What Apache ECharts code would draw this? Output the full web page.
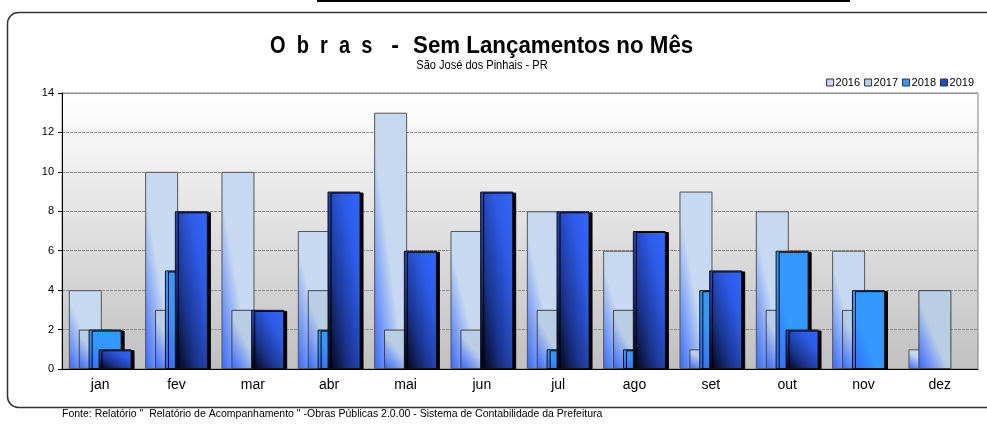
<!DOCTYPE html>
<html>
<head>
<meta charset="utf-8">
<script src="https://cdn.jsdelivr.net/npm/echarts@6/dist/echarts.min.js"></script>
<style>
  html, body { margin: 0; padding: 0; background: #fff; }
  #chart { width: 987px; height: 424px; }
</style>
</head>
<body>
<div id="chart"></div>
<script>
var meses = ['jan', 'fev', 'mar', 'abr', 'mai', 'jun', 'jul', 'ago', 'set', 'out', 'nov', 'dez'];
var anos = ['2016', '2017', '2018', '2019'];
var v2016 = [4, 10, 10, 7, 13, 7, 8, 6, 9, 8, 6, 1];
var v2017 = [2, 3, 3, 4, 2, 2, 3, 3, 1, 3, 3, 4];
var v2018 = [2, 5, 0, 2, 0, 0, 1, 1, 4, 6, 4, 0];
var v2019 = [1, 8, 3, 9, 6, 9, 8, 7, 5, 2, 0, 0];
var yTicks = [0, 2, 4, 6, 8, 10, 12, 14];

var fonte = 'Liberation Sans Narrow, Liberation Sans, Arial, sans-serif';
var BAR_W = 33;
var PX_PER_UNIT = 276 / 14;

// diagonal gradient whose isolines follow the bar's anti-diagonal (like Excel)
function diag(stops) {
  return function (p) {
    var h = Math.max(p.value * PX_PER_UNIT, 1), w = BAR_W;
    var s = h * h + w * w;
    return new echarts.graphic.LinearGradient(0, 1, 2 * h * h / s, 1 - 2 * w * w / s,
      stops.map(function (c) { return { offset: c[0], color: c[1] }; }));
  };
}

var cores = {
  '2016': diag([[0, '#3366ff'], [0.45, '#c6d9f0'], [1, '#c6d9f0']]),
  '2017': diag([[0, '#3366ff'], [0.45, '#b9cde5'], [1, '#b9cde5']]),
  '2018': diag([[0, '#3366ff'], [0.4, '#3399ff'], [1, '#3399ff']]),
  '2019': diag([[0, '#000008'], [0.35, '#1a358f'], [0.7, '#2d5be6'], [1, '#3366ff']])
};
var legendCores = { '2016': '#c6d9f0', '2017': '#b9cde5', '2018': '#3399ff', '2019': '#2448c8' };

function serie(nome, dados, borda, sombra) {
  var st = { color: cores[nome], borderColor: borda, borderWidth: 1 };
  if (sombra) {
    st.shadowColor = '#000';
    st.shadowOffsetX = 3;
    st.shadowOffsetY = 1;
    st.shadowBlur = 0;
  }
  return {
    name: nome,
    type: 'bar',
    // zero months have no visible bar
    data: dados.map(function (v) { return v === 0 ? '-' : v; }),
    barWidth: BAR_W,
    barGap: '-70%',
    itemStyle: st,
    emphasis: { disabled: true },
    animation: false
  };
}

var chart = echarts.init(document.getElementById('chart'));
chart.setOption({
  animation: false,
  textStyle: { fontFamily: fonte },
  legend: {
    data: anos.map(function (a) {
      return { name: a, itemStyle: { color: legendCores[a], borderColor: '#333', borderWidth: 1 } };
    }),
    right: 8,
    top: 72,
    icon: 'rect',
    itemWidth: 7,
    itemHeight: 7,
    itemGap: 4,
    textStyle: { fontSize: 11, color: '#000', fontFamily: 'Liberation Sans, Arial, sans-serif', padding: [0, 0, 0, -3] }
  },
  grid: {
    left: 62, right: 9, top: 93, bottom: 55,
    show: true,
    borderColor: '#808080',
    borderWidth: 1,
    backgroundColor: new echarts.graphic.LinearGradient(0, 0, 0, 1, [
      { offset: 0, color: '#ffffff' },
      { offset: 1, color: '#c0c0c0' }
    ])
  },
  xAxis: {
    type: 'category',
    data: meses,
    axisLine: { lineStyle: { color: '#000', width: 1 } },
    axisTick: { length: 5, lineStyle: { color: '#000' } },
    axisLabel: { fontSize: 14, color: '#000', margin: 9 }
  },
  yAxis: {
    type: 'value',
    min: yTicks[0],
    max: yTicks[yTicks.length - 1],
    interval: 2,
    axisLine: { show: true, lineStyle: { color: '#000', width: 1 } },
    axisTick: { show: true, length: 4, lineStyle: { color: '#000' } },
    axisLabel: { fontSize: 11, color: '#000', margin: 8, fontFamily: 'Liberation Sans, Arial, sans-serif' },
    splitLine: { lineStyle: { color: '#8c8c8c', type: [3, 1], width: 1 } }
  },
  series: [
    serie('2016', v2016, '#555', false),
    serie('2017', v2017, '#444', false),
    serie('2018', v2018, '#111', true),
    serie('2019', v2019, '#111', true)
  ],
  graphic: [
    {
      type: 'rect', silent: true, z: -1,
      shape: { x: 7.5, y: 12.5, width: 1000, height: 395, r: 11 },
      style: { fill: 'none', stroke: '#333', lineWidth: 1.5 }
    },
    {
      type: 'rect', silent: true,
      shape: { x: 317, y: 0, width: 533, height: 2 },
      style: { fill: '#000' }
    },
    {
      type: 'text', silent: true, x: 270, y: 47, scaleX: 0.87,
      style: {
        text: 'O  b  r  a  s',
        font: 'bold 23px ' + fonte, fill: '#000', align: 'left', verticalAlign: 'middle'
      }
    },
    {
      type: 'text', silent: true, x: 395, y: 47,
      style: {
        text: '-',
        font: 'bold 23px ' + fonte, fill: '#000', align: 'center', verticalAlign: 'middle'
      }
    },
    {
      type: 'text', silent: true, x: 413, y: 47, scaleX: 0.97,
      style: {
        text: 'Sem Lançamentos no Mês',
        font: 'bold 23px ' + fonte, fill: '#000', align: 'left', verticalAlign: 'middle'
      }
    },
    {
      type: 'text', silent: true, x: 482, y: 66,
      style: {
        text: 'São José dos Pinhais - PR',
        font: '12px ' + fonte, fill: '#000', align: 'center', verticalAlign: 'middle'
      },
      scaleX: 0.92
    },
    {
      type: 'text', silent: true, x: 62, y: 414,
      style: {
        text: 'Fonte: Relatório "  Relatório de Acompanhamento " -Obras Públicas 2.0.00 - Sistema de Contabilidade da Prefeitura',
        font: '10.5px ' + fonte, fill: '#000', align: 'left', verticalAlign: 'middle'
      }
    }
  ]
});
</script>
</body>
</html>
